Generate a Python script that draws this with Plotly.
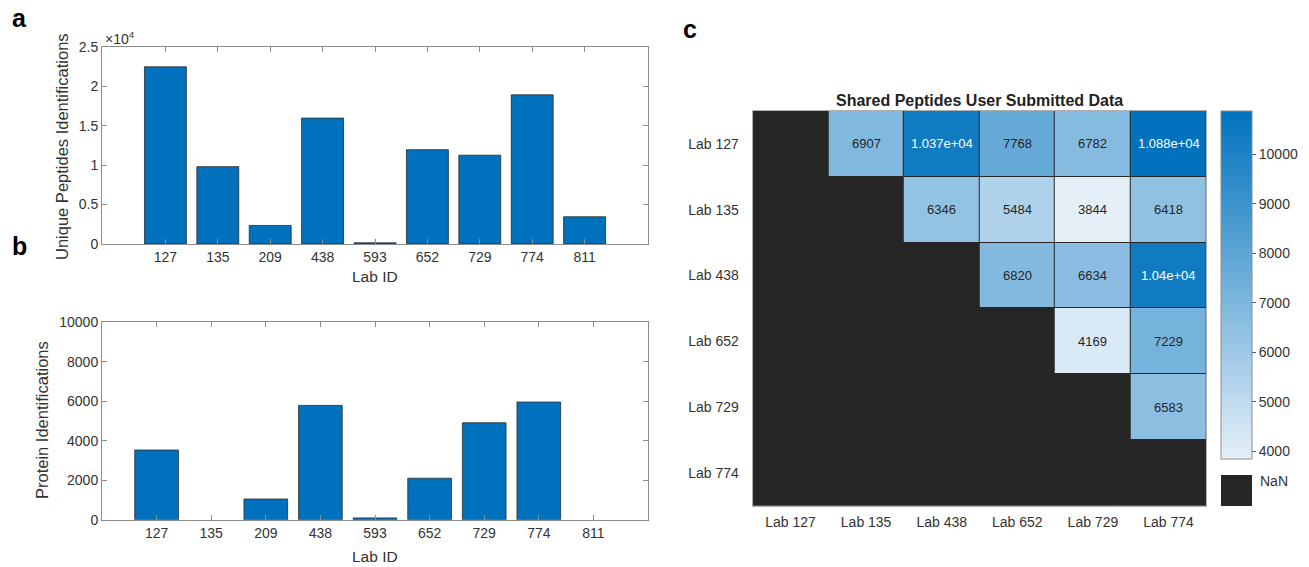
import plotly.graph_objects as go

# ---------------- data ----------------
lab_ids = ["127", "135", "209", "438", "593", "652", "729", "774", "811"]
unique_peptides = [22450, 9800, 2350, 15950, 150, 11950, 11250, 18900, 3450]
protein_ids = [3530, 0, 1050, 5790, 90, 2100, 4910, 5960, 0]

pep_ticks = [0, 5000, 10000, 15000, 20000, 25000]
pep_ticktext = ["0", "0.5", "1", "1.5", "2", "2.5"]
prot_ticks = [0, 2000, 4000, 6000, 8000, 10000]

hm_labels = ["Lab 127", "Lab 135", "Lab 438", "Lab 652", "Lab 729", "Lab 774"]
shared = [
    [None, 6907, 10370, 7768, 6782, 10880],
    [None, None, 6346, 5484, 3844, 6418],
    [None, None, None, 6820, 6634, 10400],
    [None, None, None, None, 4169, 7229],
    [None, None, None, None, None, 6583],
    [None, None, None, None, None, None],
]
cbar_ticks = [4000, 5000, 6000, 7000, 8000, 9000, 10000]

# ---------------- layout helpers ----------------
W, H = 1309, 567
def px(x):
    return x / W
def py(y):
    return 1 - y / H

FONT = "Liberation Sans, Arial, Helvetica, sans-serif"
TXT = "#333333"
AX = "#8c8c8c"
BLUE = "#0072BD"
LIGHT = (228, 239, 248)
DARK = (0, 114, 189)

fig = go.Figure()

def edge_widths(values):
    return [0.8 if v > 0 else 0 for v in values]

fig.add_trace(go.Bar(x=lab_ids, y=unique_peptides,
                     marker=dict(color=BLUE, line=dict(color="#2a2a2a", width=edge_widths(unique_peptides))),
                     width=0.8, xaxis="x", yaxis="y", showlegend=False))
fig.add_trace(go.Bar(x=lab_ids, y=protein_ids,
                     marker=dict(color=BLUE, line=dict(color="#2a2a2a", width=edge_widths(protein_ids))),
                     width=0.8, xaxis="x2", yaxis="y2", showlegend=False))

vals = [v for row in shared for v in row if v is not None]
vmin, vmax = min(vals), max(vals)

fig.add_trace(go.Heatmap(
    z=shared, x=hm_labels, y=hm_labels, xaxis="x3", yaxis="y3",
    zmin=vmin, zmax=vmax, xgap=1, ygap=1,
    colorscale=[[0, "rgb(%d,%d,%d)" % LIGHT], [1, "rgb(%d,%d,%d)" % DARK]],
    hoverongaps=False,
    colorbar=dict(x=px(1221), xanchor="left", y=py(111), yanchor="top",
                  thickness=31, thicknessmode="pixels", len=348, lenmode="pixels",
                  outlinecolor="#8c8c8c", outlinewidth=1, tickvals=cbar_ticks, tickformat="d",
                  ticks="outside", ticklen=4, tickcolor="#555", xpad=0, ypad=0,
                  tickfont=dict(family=FONT, size=14, color=TXT)),
))

bar_axis_common = dict(showline=True, linecolor=AX, linewidth=1, mirror="ticks",
                       ticks="inside", ticklen=5, tickcolor=AX, showgrid=False, zeroline=False,
                       tickfont=dict(family=FONT, size=14, color=TXT))

fig.update_layout(
    width=W, height=H, margin=dict(l=0, r=0, t=0, b=0, autoexpand=False),
    paper_bgcolor="white", plot_bgcolor="white", bargap=0.2,
    font=dict(family=FONT, color=TXT),
    xaxis=dict(domain=[px(102), px(648)], anchor="y", type="category", range=[-1.21, 9.21], **bar_axis_common),
    yaxis=dict(domain=[py(244), py(46.7)], anchor="x", range=[0, 25000], tickvals=pep_ticks,
               ticktext=pep_ticktext, **bar_axis_common),
    xaxis2=dict(domain=[px(102), px(648)], anchor="y2", type="category", range=[-1.0, 9.0], **bar_axis_common),
    yaxis2=dict(domain=[py(519.7), py(322.3)], anchor="x2", range=[0, 10000], tickvals=prot_ticks,
                tickformat="d", **bar_axis_common),
    xaxis3=dict(domain=[px(752.7), px(1206.3)], anchor="y3", type="category", showline=True, mirror=True,
                linecolor="#b0b0b0", linewidth=1, ticks="", showgrid=False, zeroline=False,
                ticklabelstandoff=3, tickfont=dict(family=FONT, size=14, color=TXT)),
    yaxis3=dict(domain=[py(505.7), py(111)], anchor="x3", type="category", autorange="reversed",
                showline=True, mirror=True, linecolor="#b0b0b0", linewidth=1, ticks="", showgrid=False,
                zeroline=False, ticklabelstandoff=10, tickfont=dict(family=FONT, size=14, color=TXT)),
)

# dark background for NaN cells
fig.add_shape(type="rect", xref="x3 domain", yref="y3 domain", x0=0, x1=1, y0=0, y1=1,
              fillcolor="#262626", line=dict(width=0), layer="below")

# cell labels
for i, row in enumerate(shared):
    for j, v in enumerate(row):
        if v is None:
            continue
        frac = (v - vmin) / (vmax - vmin)
        col = "white" if frac > 0.8 else "#262626"
        fig.add_annotation(x=hm_labels[j], y=hm_labels[i], xref="x3", yref="y3", text="%.4g" % v,
                           showarrow=False, font=dict(family=FONT, size=13, color=col))

# NaN legend swatch
fig.add_shape(type="rect", xref="paper", yref="paper", x0=px(1221), x1=px(1252), y0=py(506), y1=py(475),
              fillcolor="#262626", line=dict(width=0))
fig.add_annotation(x=px(1258), y=py(491), xref="paper", yref="paper", text="NaN", showarrow=False,
                   xanchor="left", font=dict(family=FONT, size=14, color=TXT))

# titles and labels
def ann(x, y, text, size=14, bold=False, angle=0, xanchor="center", color=TXT):
    fig.add_annotation(x=px(x), y=py(y), xref="paper", yref="paper", showarrow=False,
                       text=("<b>%s</b>" % text) if bold else text, textangle=angle, xanchor=xanchor,
                       yanchor="middle", font=dict(family=FONT, size=size, color=color))

ann(979.5, 100, "Shared Peptides User Submitted Data", size=16, bold=True, color="#222")
ann(62, 146, "Unique Peptides Identifications", size=16.5, angle=-90)
ann(42, 420, "Protein Identifications", size=16.5, angle=-90)
ann(375, 276, "Lab ID", size=15.5)
ann(375, 556, "Lab ID", size=15.5)
ann(103, 38, "×10<sup>4</sup>", size=14, xanchor="left")
ann(19, 18, "a", size=25, bold=True, color="black")
ann(19, 246, "b", size=25, bold=True, color="black")
ann(690, 29, "c", size=25, bold=True, color="black")

fig.write_html("out.html", config={"displayModeBar": False},
               post_script="document.body.style.margin='0';document.body.style.overflow='hidden';")
